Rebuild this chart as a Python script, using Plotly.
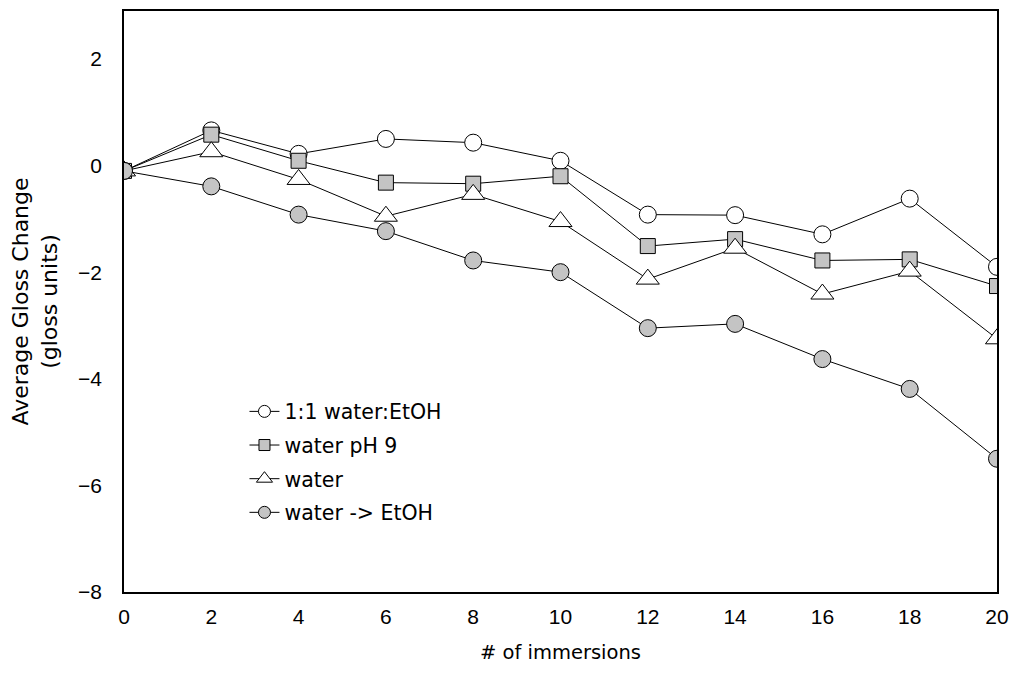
import plotly.graph_objects as go

immersions = [0, 2, 4, 6, 8, 10, 12, 14, 16, 18, 20]
water_etoh_11 = [-0.1, 0.66, 0.22, 0.5, 0.43, 0.09, -0.92, -0.93, -1.29, -0.62, -1.9]
water_ph9 = [-0.1, 0.58, 0.09, -0.32, -0.34, -0.2, -1.51, -1.38, -1.78, -1.76, -2.26]
water = [-0.1, 0.26, -0.26, -0.95, -0.54, -1.05, -2.13, -1.55, -2.41, -1.98, -3.25]
water_to_etoh = [-0.1, -0.39, -0.92, -1.23, -1.78, -2.0, -3.05, -2.97, -3.63, -4.19, -5.5]

series = [
    ("1:1 water:EtOH", water_etoh_11, "circle", "white", 17, 12),
    ("water pH 9", water_ph9, "square", "#c4c4c4", 15, 11),
    ("water", water, "triangle-up", "white", 20, 14),
    ("water -> EtOH", water_to_etoh, "circle", "#c4c4c4", 17, 12),
]

fig = go.Figure()
for name, ys, sym, fill, size, lsize in series:
    fig.add_trace(go.Scatter(
        x=immersions, y=ys, name=name, mode="lines+markers", legendgroup=name,
        showlegend=False,
        line=dict(color="black", width=1),
        marker=dict(symbol=sym, size=size, color=fill, line=dict(color="black", width=1)),
    ))
    # legend entry with smaller symbol, as in the original key
    fig.add_trace(go.Scatter(
        x=[None], y=[None], name=name, mode="lines+markers", legendgroup=name,
        line=dict(color="black", width=1),
        marker=dict(symbol=sym, size=lsize, color=fill, line=dict(color="black", width=1)),
    ))

tick_font = "Liberation Sans, Arial, sans-serif"
text_font = "DejaVu Sans, Verdana, sans-serif"
fig.update_layout(
    width=1002, height=660,
    margin=dict(l=116, r=12, t=1, b=76),
    paper_bgcolor="white", plot_bgcolor="white",
    font=dict(family=tick_font, color="black", size=21),
    showlegend=True,
    legend=dict(x=0.138, y=0.345, xanchor="left", yanchor="top",
                bgcolor="rgba(0,0,0,0)", font=dict(family=text_font, size=20.5),
                tracegroupgap=4),
    xaxis=dict(range=[0, 20], tickvals=list(range(0, 21, 2)), showgrid=False,
               zeroline=False, showline=True, linecolor="black", linewidth=1.5,
               mirror=True, ticks="", ticklen=0, ticklabelstandoff=5,
               title=dict(text="# of immersions", font=dict(family=text_font, size=19.5), standoff=18)),
    yaxis=dict(range=[-8, 2.9], tickvals=[-8, -6, -4, -2, 0, 2], showgrid=False,
               zeroline=False, showline=True, linecolor="black", linewidth=1.5,
               mirror=True, ticks="", ticklen=0, ticklabelstandoff=16,
               title=dict(text="Average Gloss Change<br>(gloss units)", font=dict(family=text_font, size=22), standoff=16)),
)

fig.write_html("out.html")
